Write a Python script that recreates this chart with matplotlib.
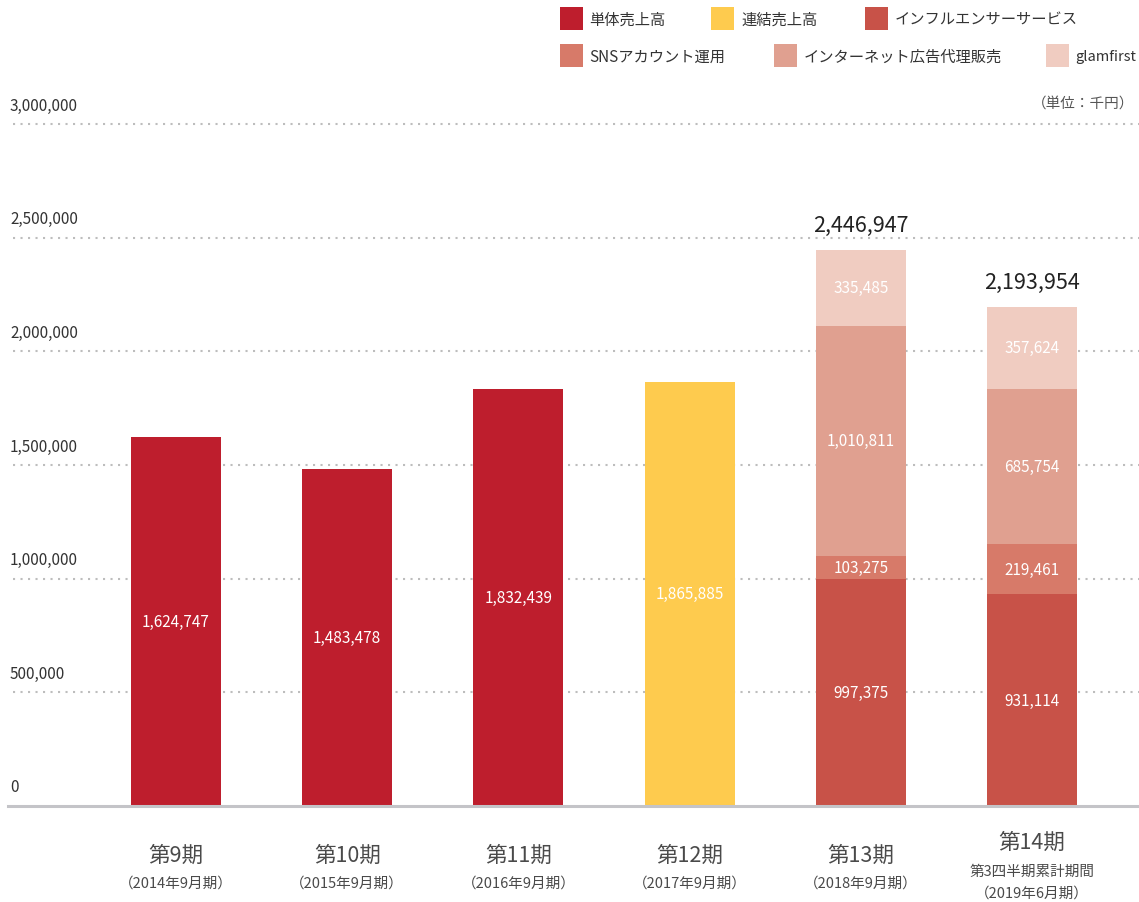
import matplotlib
matplotlib.use("Agg")
import matplotlib.pyplot as plt
from matplotlib.patches import Rectangle

plt.rcParams['font.family'] = ['Noto Sans CJK JP', 'DejaVu Sans']

W, H = 1139, 903

# ---- data ----
periods = ['第9期', '第10期', '第11期', '第12期', '第13期', '第14期']
sub_labels = ['（2014年9月期）', '（2015年9月期）', '（2016年9月期）',
              '（2017年9月期）', '（2018年9月期）', '第3四半期累計期間\n（2019年6月期）']
standalone_x = [0, 1, 2]
standalone = [1624747, 1483478, 1832439]
consolidated_x = [3]
consolidated = [1865885]
stack_x = [4, 5]
influencer = [997375, 931114]
sns = [103275, 219461]
internet = [1010811, 685754]
glamfirst = [335485, 357624]
totals = [2446947, 2193954]
yticks = [0, 500000, 1000000, 1500000, 2000000, 2500000, 3000000]

legend_names = ['単体売上高', '連結売上高', 'インフルエンサーサービス',
                'SNSアカウント運用', 'インターネット広告代理販売', 'glamfirst']

# ---- styles ----
c_stand = '#BE1E2D'
c_cons = '#FECB4E'
c_infl = '#C85248'
c_sns = '#D77A69'
c_net = '#E0A090'
c_glam = '#F0CCC1'
colors = [c_stand, c_cons, c_infl, c_sns, c_net, c_glam]

fig = plt.figure(figsize=(W / 100, H / 100), dpi=100)
base_px, top_px = 807, 125
ax = fig.add_axes([0, (H - base_px) / H, 1, (base_px - top_px) / H])
ax.set_ylim(0, 3000000)
step = 171.2
c0 = 176
ax.set_xlim(-c0 / step, (W - c0) / step)
ax.axis('off')
bw = 90 / step

# grid lines
for v in yticks[1:]:
    ax.axhline(v, xmin=13 / W, xmax=1, color='#BDBDBD', lw=1.5,
               linestyle=(0, (1, 2.6)), zorder=0, clip_on=False)
ax.axhline(0, xmin=8 / W, xmax=1, color='#C4C4C8', lw=2.2, zorder=3, clip_on=False)

# y labels
for v in yticks:
    ax.annotate(f'{v:,}', xy=(0, v), xycoords=('axes fraction', 'data'),
                xytext=(10, 19), textcoords='offset pixels',
                ha='left', va='center', fontsize=11, color='#333333')
ax.annotate('（単位：千円）', xy=(1, 3000000), xycoords=('axes fraction', 'data'),
            xytext=(-5, 21), textcoords='offset pixels', ha='right', va='center',
            fontsize=10.5, color='#555555')

# bars
lab_kw = dict(label_type='center', fmt='{:,.0f}', color='white', fontsize=11)
b = ax.bar(standalone_x, standalone, width=bw, color=c_stand, zorder=2)
ax.bar_label(b, **lab_kw)
b = ax.bar(consolidated_x, consolidated, width=bw, color=c_cons, zorder=2)
ax.bar_label(b, **lab_kw)
bottom = [0, 0]
for vals, col in [(influencer, c_infl), (sns, c_sns), (internet, c_net), (glamfirst, c_glam)]:
    b = ax.bar(stack_x, vals, width=bw, bottom=bottom, color=col, zorder=2)
    ax.bar_label(b, **lab_kw)
    bottom = [bt + v for bt, v in zip(bottom, vals)]

for x, top, t in zip(stack_x, bottom, totals):
    ax.annotate(f'{t:,}', xy=(x, top), xytext=(0, 25), textcoords='offset pixels',
                ha='center', va='center', fontsize=15.5, color='#222222')

# x labels
for i, (p, s) in enumerate(zip(periods, sub_labels)):
    if '\n' in s:
        ax.annotate(p, xy=(i, 0), xytext=(0, -(843 - base_px)), textcoords='offset pixels',
                    ha='center', va='center', fontsize=15.5, color='#4a4a4a', annotation_clip=False)
        l1, l2 = s.split('\n')
        ax.annotate(l1, xy=(i, 0), xytext=(0, -(872 - base_px)), textcoords='offset pixels',
                    ha='center', va='center', fontsize=10.5, color='#4a4a4a', annotation_clip=False)
        ax.annotate(l2, xy=(i, 0), xytext=(0, -(894 - base_px)), textcoords='offset pixels',
                    ha='center', va='center', fontsize=10.5, color='#4a4a4a', annotation_clip=False)
    else:
        ax.annotate(p, xy=(i, 0), xytext=(0, -(856 - base_px)), textcoords='offset pixels',
                    ha='center', va='center', fontsize=15.5, color='#4a4a4a', annotation_clip=False)
        ax.annotate(s, xy=(i, 0), xytext=(0, -(884 - base_px)), textcoords='offset pixels',
                    ha='center', va='center', fontsize=10.5, color='#4a4a4a', annotation_clip=False)

# legend (manual placement)
leg_sq = [(560, 8), (711, 8), (865, 8), (560, 45), (774, 45), (1046, 45)]
leg_tx = [589, 741, 895, 589, 804, 1075]
for (sx, sy), tx, name, col in zip(leg_sq, leg_tx, legend_names, colors):
    fig.add_artist(Rectangle((sx / W, 1 - (sy + 23) / H), 23 / W, 23 / H,
                             transform=fig.transFigure, color=col, lw=0))
    fig.text(tx / W, 1 - (sy + 12) / H, name, ha='left', va='center',
             fontsize=11 if name != 'glamfirst' else 10.5, color='#333333')

fig.savefig('out.png', dpi=100)
